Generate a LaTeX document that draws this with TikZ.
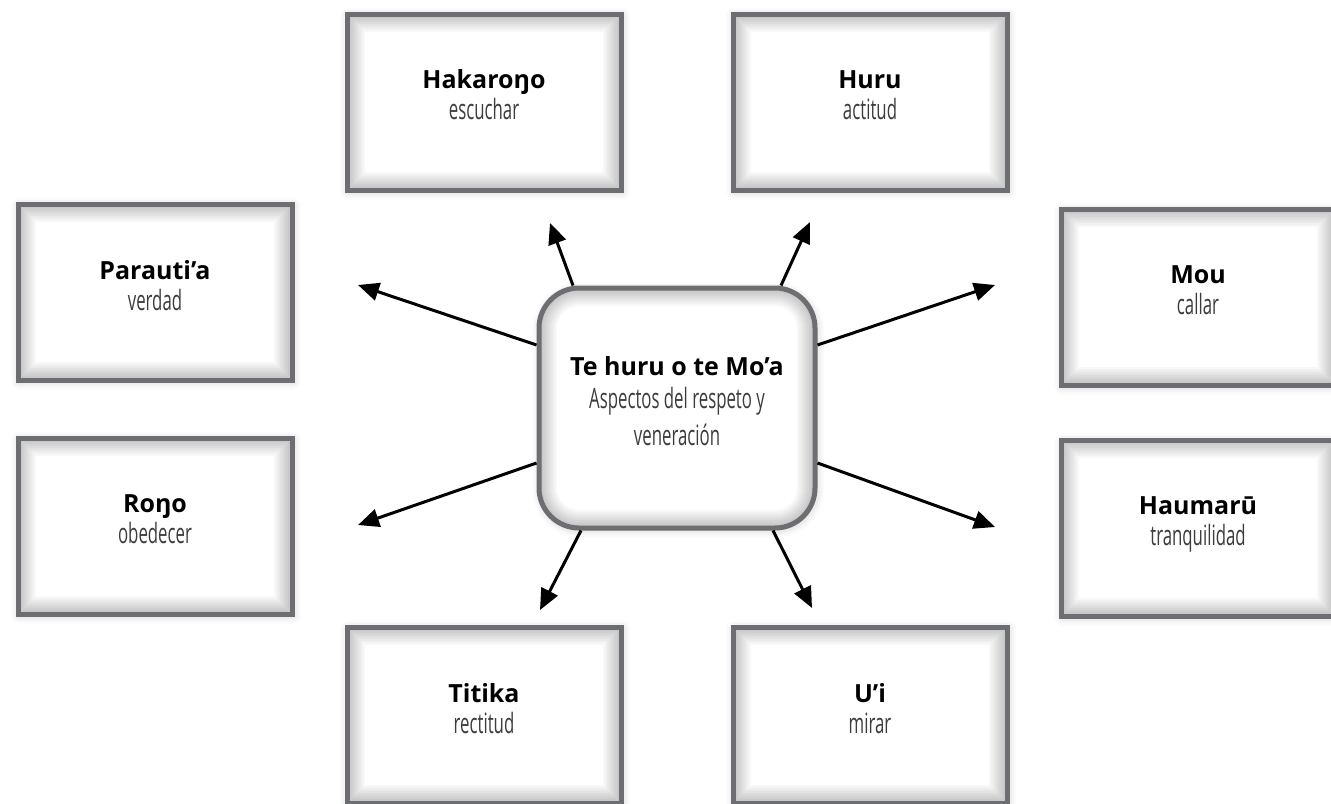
\documentclass[tikz,border=0pt]{standalone}
\usepackage{fontspec}
\setmainfont{Open Sans}
\newfontfamily\narrowfont[FakeStretch=0.6]{Open Sans}
\usepackage{tikz}
\usetikzlibrary{arrows.meta,shadows.blur,calc}
\definecolor{framegray}{HTML}{6D6E71}
\definecolor{subgray}{HTML}{3C3C3C}
\newcommand{\glosa}[1]{{\narrowfont\fontsize{14}{15.5}\selectfont\color{subgray}#1\rule[-7pt]{0pt}{7pt}}}
\tikzset{glow/.style={path picture={
  \foreach \w in {2,4,...,18}
    \draw[black, opacity=0.026, line width=\w*1pt, rounded corners=#1]
      (path picture bounding box.south west) rectangle (path picture bounding box.north east);
}}}
\tikzstyle{card} = [rectangle, draw=framegray, line width=2.5pt, fill=white,
align=center, minimum width=137pt, minimum height=88pt, glow=0pt,
font=\fontsize{12.5}{15.5}\selectfont,
blur shadow={shadow xshift=0.6pt, shadow yshift=-0.8pt, shadow blur radius=4pt, shadow opacity=22}]
\tikzstyle{hub} = [card, rounded corners=20pt, minimum width=138pt, minimum height=120pt,
glow=20pt, font=\fontsize{12.5}{16.5}\selectfont]
\tikzstyle{ray} = [draw, line width=1.5pt, -{Triangle[length=10.5pt, width=9pt]}]

\begin{document}
\begin{tikzpicture}[x=0.5pt, y=-0.5pt]
    \useasboundingbox (0,0) rectangle (1331,803);
    \clip (0,0) rectangle (1331,803);

    % Nodes
    \node [hub] (moa) at (677,408) {\textbf{Te huru o te Mo’a}\\\glosa{Aspectos del respeto y}\\\glosa{veneración}};
    \node [card] (hakarono) at (484,102) {\textbf{Hakaroŋo}\\\glosa{escuchar}};
    \node [card] (huru) at (870,102) {\textbf{Huru}\\\glosa{actitud}};
    \node [card] (parautia) at (155,292) {\textbf{Parauti’a}\\\glosa{verdad}};
    \node [card] (mou) at (1198,297) {\textbf{Mou}\\\glosa{callar}};
    \node [card] (rono) at (155,526) {\textbf{Roŋo}\\\glosa{obedecer}};
    \node [card] (haumaru) at (1198,528) {\textbf{Haumarū}\\\glosa{tranquilidad}};
    \node [card] (titika) at (484,715) {\textbf{Titika}\\\glosa{rectitud}};
    \node [card] (ui) at (870,715) {\textbf{U’i}\\\glosa{mirar}};

    % arrow tips
    \coordinate (tHakarono) at (550,223);
    \coordinate (tHuru) at (810,222);
    \coordinate (tParautia) at (358,285);
    \coordinate (tMou) at (995,285);
    \coordinate (tRono) at (358,525);
    \coordinate (tHaumaru) at (995,527);
    \coordinate (tTitika) at (540,610);
    \coordinate (tUi) at (812,608);

    % arrows
    \draw [ray] ($(moa.north)+(-104,0)$) -- (tHakarono);
    \draw [ray] ($(moa.north)+(104,0)$) -- (tHuru);
    \draw [ray] ($(moa.west)+(0,-63)$) -- (tParautia);
    \draw [ray] ($(moa.east)+(0,-63)$) -- (tMou);
    \draw [ray] ($(moa.west)+(0,55)$) -- (tRono);
    \draw [ray] ($(moa.east)+(0,55)$) -- (tHaumaru);
    \draw [ray] ($(moa.south)+(-96,0)$) -- (tTitika);
    \draw [ray] ($(moa.south)+(96,0)$) -- (tUi);
\end{tikzpicture}
\end{document}
